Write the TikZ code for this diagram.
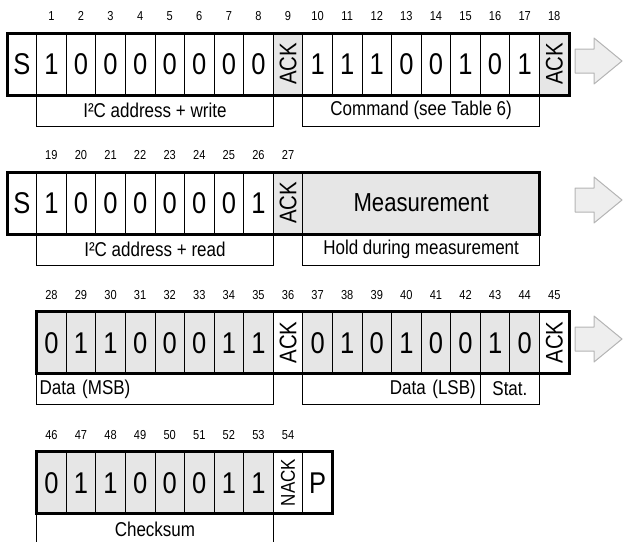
\documentclass[tikz,border=0pt]{standalone}
\usepackage{fontspec}
\setmainfont[FakeStretch=0.85]{Liberation Sans}
\usepackage{graphicx}
\usetikzlibrary{positioning}
\definecolor{cellgray}{HTML}{E6E6E6}
\definecolor{arrowfill}{HTML}{EEEEEE}
\definecolor{arrowline}{HTML}{B4B4B4}
\tikzset{
  cellbox/.style={draw, line width=0.8pt, minimum width=29.58pt, minimum height=62pt, inner sep=0pt, outer sep=0pt},
  bit/.style={cellbox, text height=21.5pt, text depth=0pt, font=\fontsize{30}{30}\selectfont},
  shaded/.style={fill=cellgray},
  ack/.style={cellbox, font=\fontsize{24}{24}\selectfont},
  nack/.style={cellbox, font=\fontsize{20}{20}\selectfont},
  num/.style={font=\fontsize{13}{13}\selectfont, inner sep=0pt, text height=9.3pt, text depth=0pt},
  lbl/.style={draw, line width=0.8pt, minimum height=31pt, inner sep=0pt, outer sep=0pt, anchor=north west, font=\fontsize{20}{20}\selectfont},
  frame/.style={line width=3pt},
  nextarrow/.style={draw=arrowline, fill=arrowfill, line width=1pt, line join=round}
}
\begin{document}
\begin{tikzpicture}[x=1pt, y=-1pt, label distance=12.3pt]
\useasboundingbox (0,0) rectangle (623,541);
% write: address + command
\node[bit] (s1) at (21.8,64) {S};
\node[bit, right=0pt of s1, label={[num]above:1}] (b1) {1};
\node[bit, right=0pt of b1, label={[num]above:2}] (b2) {0};
\node[bit, right=0pt of b2, label={[num]above:3}] (b3) {0};
\node[bit, right=0pt of b3, label={[num]above:4}] (b4) {0};
\node[bit, right=0pt of b4, label={[num]above:5}] (b5) {0};
\node[bit, right=0pt of b5, label={[num]above:6}] (b6) {0};
\node[bit, right=0pt of b6, label={[num]above:7}] (b7) {0};
\node[bit, right=0pt of b7, label={[num]above:8}] (b8) {0};
\node[ack, shaded, right=0pt of b8, label={[num]above:9}] (a9) {\rotatebox{90}{ACK}};
\node[bit, right=0pt of a9, label={[num]above:10}] (b10) {1};
\node[bit, right=0pt of b10, label={[num]above:11}] (b11) {1};
\node[bit, right=0pt of b11, label={[num]above:12}] (b12) {1};
\node[bit, right=0pt of b12, label={[num]above:13}] (b13) {0};
\node[bit, right=0pt of b13, label={[num]above:14}] (b14) {0};
\node[bit, right=0pt of b14, label={[num]above:15}] (b15) {1};
\node[bit, right=0pt of b15, label={[num]above:16}] (b16) {0};
\node[bit, right=0pt of b16, label={[num]above:17}] (b17) {1};
\node[ack, shaded, right=0pt of b17, label={[num]above:18}] (a18) {\rotatebox{90}{ACK}};
\node[lbl, minimum width=236.64pt] (addrw) at (b1.south west) {I²C address + write};
\node[lbl, minimum width=236.64pt] (cmd) at (b10.south west) {Command (see Table 6)};
\draw[frame] (s1.north west) rectangle (a18.south east);
\draw[nextarrow] (575,49) -- ++(19,0) -- ++(0,-11) -- ++(28,23) -- ++(-28,23) -- ++(0,-11) -- ++(-19,0) -- cycle;
% read: address + hold
\node[bit] (s2) at (21.8,203) {S};
\node[bit, right=0pt of s2, label={[num]above:19}] (b19) {1};
\node[bit, right=0pt of b19, label={[num]above:20}] (b20) {0};
\node[bit, right=0pt of b20, label={[num]above:21}] (b21) {0};
\node[bit, right=0pt of b21, label={[num]above:22}] (b22) {0};
\node[bit, right=0pt of b22, label={[num]above:23}] (b23) {0};
\node[bit, right=0pt of b23, label={[num]above:24}] (b24) {0};
\node[bit, right=0pt of b24, label={[num]above:25}] (b25) {0};
\node[bit, right=0pt of b25, label={[num]above:26}] (b26) {1};
\node[ack, shaded, right=0pt of b26, label={[num]above:27}] (a27) {\rotatebox{90}{ACK}};
\node[cellbox, shaded, minimum width=236.64pt, font=\fontsize{26}{26}\selectfont, right=0pt of a27] (meas) {Measurement};
\node[lbl, minimum width=236.64pt] (addrr) at (b19.south west) {I²C address + read};
\node[lbl, minimum width=236.64pt] (hold) at (meas.south west) {Hold during measurement};
\draw[frame] (s2.north west) rectangle (meas.south east);
\draw[nextarrow] (575,188) -- ++(19,0) -- ++(0,-11) -- ++(28,23) -- ++(-28,23) -- ++(0,-11) -- ++(-19,0) -- cycle;
% data
\node[bit, shaded, label={[num]above:28}] (b28) at (51.4,342.5) {0};
\node[bit, shaded, right=0pt of b28, label={[num]above:29}] (b29) {1};
\node[bit, shaded, right=0pt of b29, label={[num]above:30}] (b30) {1};
\node[bit, shaded, right=0pt of b30, label={[num]above:31}] (b31) {0};
\node[bit, shaded, right=0pt of b31, label={[num]above:32}] (b32) {0};
\node[bit, shaded, right=0pt of b32, label={[num]above:33}] (b33) {0};
\node[bit, shaded, right=0pt of b33, label={[num]above:34}] (b34) {1};
\node[bit, shaded, right=0pt of b34, label={[num]above:35}] (b35) {1};
\node[ack, right=0pt of b35, label={[num]above:36}] (a36) {\rotatebox{90}{ACK}};
\node[bit, shaded, right=0pt of a36, label={[num]above:37}] (b37) {0};
\node[bit, shaded, right=0pt of b37, label={[num]above:38}] (b38) {1};
\node[bit, shaded, right=0pt of b38, label={[num]above:39}] (b39) {0};
\node[bit, shaded, right=0pt of b39, label={[num]above:40}] (b40) {1};
\node[bit, shaded, right=0pt of b40, label={[num]above:41}] (b41) {0};
\node[bit, shaded, right=0pt of b41, label={[num]above:42}] (b42) {0};
\node[bit, shaded, right=0pt of b42, label={[num]above:43}] (b43) {1};
\node[bit, shaded, right=0pt of b43, label={[num]above:44}] (b44) {0};
\node[ack, right=0pt of b44, label={[num]above:45}] (a45) {\rotatebox{90}{ACK}};
\node[lbl, text width=230.64pt, inner xsep=3pt, align=left] (msb) at (b28.south west) {Data (MSB)};
\node[lbl, text width=168.5pt, inner xsep=4.5pt, align=right] (lsb) at (b37.south west) {Data (LSB)};
\node[lbl, minimum width=59.16pt] (stat) at (b43.south west) {Stat.};
\draw[frame] (b28.north west) rectangle (a45.south east);
\draw[nextarrow] (575,327) -- ++(19,0) -- ++(0,-11) -- ++(28,23) -- ++(-28,23) -- ++(0,-11) -- ++(-19,0) -- cycle;
% checksum
\node[bit, shaded, label={[num]above:46}] (b46) at (51.4,482.5) {0};
\node[bit, shaded, right=0pt of b46, label={[num]above:47}] (b47) {1};
\node[bit, shaded, right=0pt of b47, label={[num]above:48}] (b48) {1};
\node[bit, shaded, right=0pt of b48, label={[num]above:49}] (b49) {0};
\node[bit, shaded, right=0pt of b49, label={[num]above:50}] (b50) {0};
\node[bit, shaded, right=0pt of b50, label={[num]above:51}] (b51) {0};
\node[bit, shaded, right=0pt of b51, label={[num]above:52}] (b52) {1};
\node[bit, shaded, right=0pt of b52, label={[num]above:53}] (b53) {1};
\node[nack, right=0pt of b53, label={[num]above:54}] (n54) {\rotatebox{90}{NACK}};
\node[bit, right=0pt of n54] (stop) {P};
\node[lbl, minimum width=236.64pt] (chk) at (b46.south west) {Checksum};
\draw[frame] (b46.north west) rectangle (stop.south east);
\end{tikzpicture}
\end{document}
